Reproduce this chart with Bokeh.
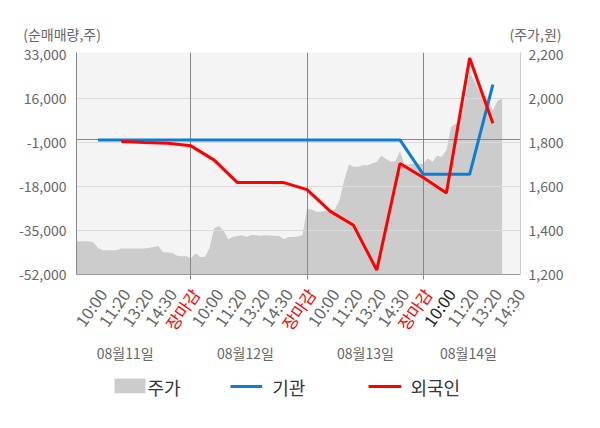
import numpy as np
from bokeh.plotting import figure
from bokeh.layouts import column
from bokeh.models import (Range1d, LinearAxis, FixedTicker, NumeralTickFormatter)
from bokeh.embed import file_html
from bokeh.resources import INLINE
from bokeh.core.properties import value

FONT = "Noto Sans CJK KR"

# ---------------- data ----------------
slot_labels = ["10:00", "11:20", "13:20", "14:30", "장마감"] * 3 + ["10:00", "11:20", "13:20", "14:30"]
slot_pos = list(range(1, 20))
day_labels = ["08월11일", "08월12일", "08월13일", "08월14일"]
day_sep = [5, 10, 15]
left_ticks = [33000, 16000, -1000, -18000, -35000, -52000]
right_ticks = [1200, 1400, 1600, 1800, 2000, 2200]

# price (주가), sampled every 0.2 slot
price_step = 0.2
price = [1351, 1351, 1351, 1351, 1345, 1320, 1310, 1310, 1310, 1310,
         1318, 1318, 1318, 1318, 1318, 1318, 1322, 1325, 1328, 1301,
         1300, 1298, 1285, 1283, 1283, 1274, 1295, 1280, 1279, 1320,
         1410, 1420, 1400, 1360, 1370, 1375, 1378, 1372, 1380, 1378,
         1376, 1378, 1377, 1376, 1375, 1360, 1370, 1371, 1373, 1379,
         1500, 1495, 1485, 1485, 1490, 1490, 1495, 1540, 1630, 1700,
         1690, 1690, 1697, 1697, 1705, 1712, 1740, 1725, 1712, 1715,
         1760, 1700, 1700, 1705, 1700, 1705, 1727, 1712, 1740, 1735,
         1765, 1870, 1885, 1900, 1990, 2120, 2080, 2040, 2020, 2000,
         1945, 1990, 2000]

inst_slots = list(range(1, 19))
inst = [0] * 14 + [-13300, -13300, -13300, 21400]          # 기관
foreign_slots = list(range(2, 19))
foreign = [-600, -1000, -1300, -2300, -7800, -16500, -16500, -16500, -19200,
           -27600, -33000, -50300, -9100, -14500, -20500, 31600, 6400]  # 외국인

# ---------------- layout constants (page pixels) ----------------
W = 600
TOP_H, MAIN_H, BOT_H = 44, 240, 144
FL, FR = 76, 520            # frame left / right
FT, FB = 52, 274            # frame top / bottom
Y_TOP_TICK = 54             # page y of the 33,000 tick
X0, X1 = 0.07, 19.19        # slot range shown in the frame
L_MIN, L_MAX = -52000, 33000
P_MIN, P_MAX = 1200, 2200
extra = (Y_TOP_TICK - FT) / (FB - Y_TOP_TICK)   # fraction of range above the top tick

# ---------------- title strip ----------------
top = figure(width=W, height=TOP_H, x_range=Range1d(0, W), y_range=Range1d(TOP_H, 0),
             output_backend="svg", toolbar_location=None, min_border=0,
             min_border_left=0, min_border_right=0, min_border_top=0, min_border_bottom=0,
             x_axis_location=None, y_axis_location=None, outline_line_color=None,
             background_fill_color="white", border_fill_color="white")
top.grid.visible = False
top.text(x=[22.7], y=[33], text=["(순매매량,주)"], text_align="left", text_baseline="middle",
         text_font=value(FONT), text_font_size=value("14px"), text_color="#666666")
top.text(x=[509], y=[33], text=["(주가,원)"], text_align="left", text_baseline="middle",
         text_font=value(FONT), text_font_size=value("14px"), text_color="#666666")

# ---------------- main chart ----------------
p = figure(width=W, height=MAIN_H, x_range=Range1d(X0, X1),
           y_range=Range1d(L_MIN, L_MAX + (L_MAX - L_MIN) * extra),
           output_backend="svg", toolbar_location=None,
           min_border_left=FL, min_border_right=W - FR,
           min_border_top=FT - TOP_H, min_border_bottom=TOP_H + MAIN_H - FB,
           background_fill_color="#f4f4f4", border_fill_color="white", outline_line_color=None)
p.extra_y_ranges = {"price": Range1d(P_MIN, P_MAX + (P_MAX - P_MIN) * extra)}

ya = p.yaxis[0]
ya.ticker = FixedTicker(ticks=left_ticks)
ya.formatter = NumeralTickFormatter(format="0,0")
ya.major_label_text_font = FONT
ya.major_label_text_font_size = "14px"
ya.major_label_text_color = "#666666"
ya.major_tick_out = 0
ya.major_tick_in = 0
ya.minor_tick_out = 0
ya.minor_tick_in = 0
ya.major_label_standoff = 10
ya.axis_line_color = "#888888"

ra = LinearAxis(y_range_name="price", ticker=FixedTicker(ticks=right_ticks),
                formatter=NumeralTickFormatter(format="0,0"))
ra.major_label_text_font = FONT
ra.major_label_text_font_size = "14px"
ra.major_label_text_color = "#666666"
ra.major_tick_out = 0
ra.major_tick_in = 0
ra.minor_tick_out = 0
ra.minor_tick_in = 0
ra.major_label_standoff = 8
ra.axis_line_color = "#cccccc"
p.add_layout(ra, "right")

xa = p.xaxis[0]
xa.ticker = FixedTicker(ticks=day_sep)
xa.major_tick_out = 5
xa.major_tick_in = 0
xa.minor_tick_out = 0
xa.minor_tick_in = 0
xa.major_tick_line_color = "#888888"
xa.axis_line_color = "#999999"
xa.major_label_standoff = 0
xa.major_label_text_alpha = 0
xa.major_label_text_font_size = "1px"

p.xgrid.visible = False
p.ygrid.visible = False

px = np.arange(len(price)) * price_step
p.varea(x=px, y1=P_MIN, y2=price, y_range_name="price", fill_color="#cccccc")

p.hspan(y=left_ticks[1:-1], line_color="#dadada", line_width=1)
p.vspan(x=day_sep, line_color="#888888", line_width=1)
p.hspan(y=[0], line_color="#888888", line_width=1)

p.line(inst_slots, inst, line_color="#0a7fd0", line_width=3)
p.line(foreign_slots, foreign, line_color="#ff0000", line_width=3)

# ---------------- bottom strip: tick labels, dates, legend ----------------
y_top = TOP_H + MAIN_H
bot = figure(width=W, height=BOT_H, x_range=Range1d(0, W), y_range=Range1d(y_top + BOT_H, y_top),
             output_backend="svg", toolbar_location=None, min_border=0,
             min_border_left=0, min_border_right=0, min_border_top=0, min_border_bottom=0,
             x_axis_location=None, y_axis_location=None, outline_line_color=None,
             background_fill_color="white", border_fill_color="white")
bot.grid.visible = False
spp = (FR - FL) / (X1 - X0)                 # pixels per slot in the main frame
sx0 = X0 - FL / spp
bot.extra_x_ranges = {"slots": Range1d(sx0, sx0 + W / spp)}

colors = []
for i, t in enumerate(slot_labels):
    if t == "장마감":
        colors.append("#ff0000")
    elif i == 15:
        colors.append("#222222")
    else:
        colors.append("#666666")
bot.text(x=slot_pos, y=[290] * len(slot_pos), text=slot_labels, x_range_name="slots",
         angle=np.radians(55), text_align="right", text_baseline="middle", x_offset=4.5,
         text_color=colors, text_font=value(FONT), text_font_size=value("16.5px"))

bot.text(x=[124.7, 245, 365, 468], y=[352] * 4, text=day_labels, text_align="center",
         text_baseline="middle", text_font=value(FONT), text_font_size=value("14px"),
         text_color="#666666")

leg_names = ["주가", "기관", "외국인"]
leg_colors = ["#cccccc", "#0a7fd0", "#ff0000"]
bot.quad(left=[114], right=[145], top=[378], bottom=[392.7], fill_color=leg_colors[0], line_color=None)
bot.quad(left=[230, 368], right=[261.7, 400.7], top=[384.5, 384.5], bottom=[387.5, 387.5],
         fill_color=leg_colors[1:], line_color=None)
bot.text(x=[147, 271.7, 410], y=[386] * 3, text=leg_names, text_align="left", text_baseline="middle",
         text_font=value(FONT), text_font_size=value("18px"), text_color="#333333")

# stop Bokeh from aligning the frames of the stacked figures
for f in (top, p, bot):
    try:
        f.frame_align = False
    except Exception:
        pass

layout = column(top, p, bot, spacing=0)
open("out.html", "w").write(file_html(layout, INLINE))
